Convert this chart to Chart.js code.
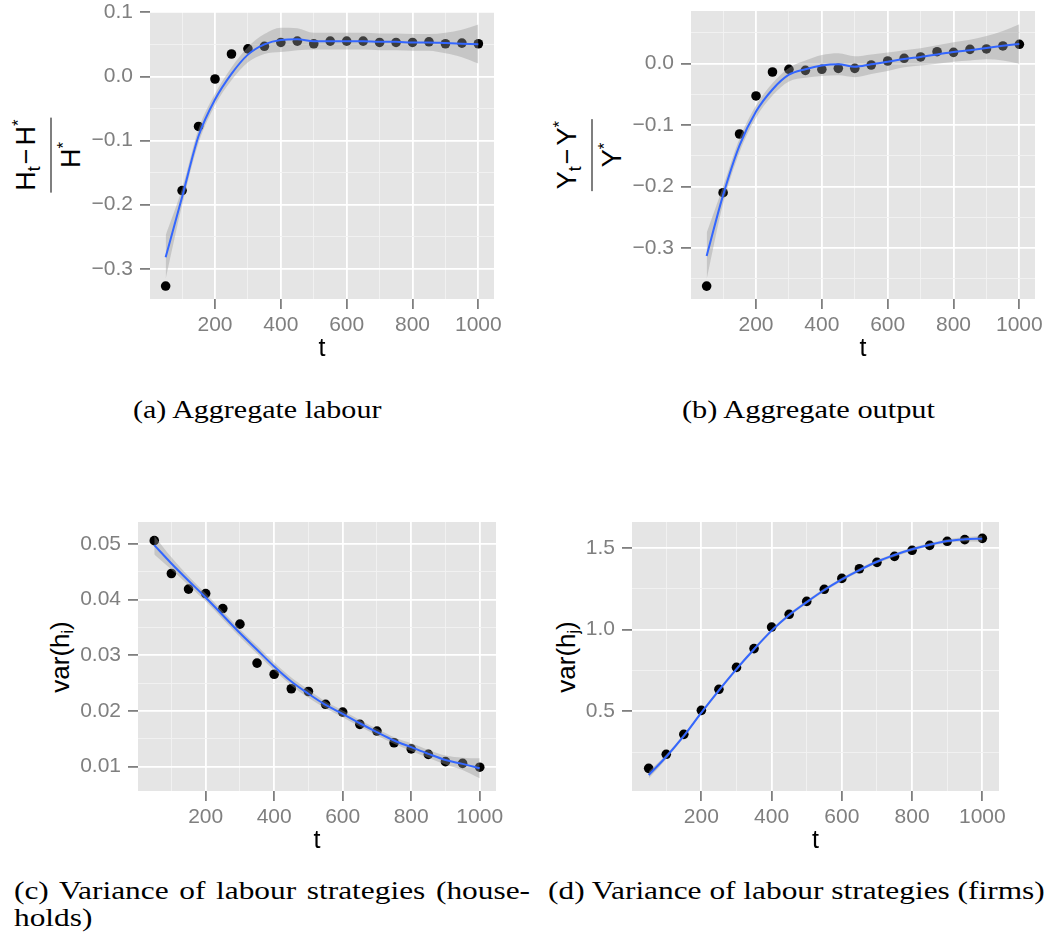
<!DOCTYPE html>
<html>
<head>
<meta charset="utf-8">
<script src="https://cdn.jsdelivr.net/npm/chart.js@4.4.1/dist/chart.umd.min.js"></script>
<style>
  html, body { margin: 0; padding: 0; background: #fff; }
  #page { position: relative; width: 1050px; height: 945px; overflow: hidden; }
  canvas { position: absolute; }
  .ylab { position: absolute; font-family: "Liberation Sans", Arial, sans-serif; color: #000;
          white-space: nowrap; transform: translate(-50%, -50%) rotate(-90deg); }
  .ylab.simple { font-size: 26px; line-height: 26px; }
  .ylab.simple sub { font-size: 0.6em; line-height: 0; vertical-align: -4px; }
  .frac { display: inline-flex; flex-direction: column; align-items: stretch; font-size: 27px; line-height: 30px; }
  .frac .num { padding: 0 2px 10px; text-align: center; }
  .frac .bar { border-top: 1.6px solid #000; }
  .frac .den { padding-top: 4px; text-align: center; }
  .frac sup { font-size: 0.62em; line-height: 0; vertical-align: 11px; }
  .frac sub { font-size: 0.66em; line-height: 0; vertical-align: -5px; }
  .frac .op { margin: 0 3px 0 2px; }
  .cap { position: absolute; font-family: "Liberation Serif", "Times New Roman", serif; font-size: 25px;
         line-height: 25px; color: #000; white-space: nowrap; transform-origin: 0 0; }
</style>
</head>
<body>
<div id="page">
  <div class="ylab" style="left:48px; top:154.5px;">
    <div class="frac"><span class="num">H<sub>t</sub><span class="op">−</span>H<sup>*</sup></span><span class="bar"></span><span class="den">H<sup>*</sup></span></div>
  </div>
  <div class="ylab" style="left:589px; top:155px;">
    <div class="frac"><span class="num">Y<sub>t</sub><span class="op">−</span>Y<sup>*</sup></span><span class="bar"></span><span class="den">Y<sup>*</sup></span></div>
  </div>
  <div class="ylab simple" style="left:60px; top:656.5px;">var(h<sub>i</sub>)</div>
  <div class="ylab simple" style="left:566px; top:656.5px;">var(h<sub>j</sub>)</div>

  <div class="cap" id="capA" style="left:133.3px; top:397.4px;">(a) Aggregate labour</div>
  <div class="cap" id="capB" style="left:682px; top:397.4px;">(b) Aggregate output</div>
  <div class="cap" id="capC1" style="left:13.8px; top:878.4px;">(c) Variance of labour strategies (house-</div>
  <div class="cap" id="capC2" style="left:13.8px; top:905.3px;">holds)</div>
  <div class="cap" id="capD" style="left:548.3px; top:878.4px;">(d) Variance of labour strategies (firms)</div>
</div>
<script>
const tValues = [50, 100, 150, 200, 250, 300, 350, 400, 450, 500, 550, 600, 650, 700, 750, 800, 850, 900, 950, 1000];

// (a) aggregate labour, (H_t - H*)/H*
const labourPoints = [-0.327, -0.178, -0.078, -0.004, 0.035, 0.043, 0.047, 0.053, 0.055, 0.051, 0.055, 0.055, 0.055, 0.053, 0.053, 0.053, 0.054, 0.051, 0.052, 0.051];
const labourFit = [-0.282, -0.188, -0.093, -0.036, 0.004, 0.034, 0.050, 0.057, 0.058, 0.055, 0.055, 0.055, 0.055, 0.054, 0.054, 0.053, 0.053, 0.052, 0.051, 0.050];
const labourHigh = [-0.248, -0.175, -0.082, -0.027, 0.014, 0.046, 0.066, 0.076, 0.075, 0.068, 0.068, 0.068, 0.068, 0.067, 0.067, 0.066, 0.066, 0.068, 0.073, 0.081];
const labourLow = [-0.316, -0.201, -0.104, -0.045, -0.006, 0.022, 0.035, 0.038, 0.041, 0.042, 0.042, 0.042, 0.042, 0.041, 0.041, 0.040, 0.040, 0.036, 0.030, 0.020];

// (b) aggregate output, (Y_t - Y*)/Y*
const outputPoints = [-0.362, -0.210, -0.1145, -0.0526, -0.0136, -0.0092, -0.0109, -0.0092, -0.0076, -0.0076, -0.0022, 0.0043, 0.0087, 0.0109, 0.0195, 0.0184, 0.0233, 0.0239, 0.0288, 0.0315];
const outputFit = [-0.313, -0.214, -0.133, -0.078, -0.042, -0.018, -0.009, -0.003, -0.001, -0.005, -0.001, 0.003, 0.0076, 0.011, 0.015, 0.019, 0.022, 0.0255, 0.029, 0.032];
const outputHigh = [-0.275, -0.200, -0.122, -0.068, -0.032, -0.007, 0.005, 0.014, 0.017, 0.012, 0.015, 0.018, 0.022, 0.025, 0.030, 0.035, 0.039, 0.045, 0.053, 0.064];
const outputLow = [-0.351, -0.228, -0.144, -0.088, -0.052, -0.029, -0.023, -0.020, -0.019, -0.022, -0.017, -0.012, -0.006, -0.003, 0.000, 0.003, 0.005, 0.007, 0.005, 0.000];

// (c) variance of labour strategies, households
const hhPoints = [0.0506, 0.0447, 0.0419, 0.0411, 0.0384, 0.0356, 0.0286, 0.0266, 0.0240, 0.0235, 0.0212, 0.0198, 0.0176, 0.0164, 0.0143, 0.0132, 0.0122, 0.0109, 0.0106, 0.0099];
const hhFit = [0.0498, 0.0465, 0.0434, 0.0404, 0.0372, 0.0340, 0.0310, 0.0280, 0.0253, 0.0231, 0.0211, 0.0195, 0.0178, 0.0162, 0.0147, 0.0135, 0.0123, 0.0112, 0.0105, 0.0097];
const hhHigh = [0.0515, 0.0476, 0.0442, 0.0411, 0.0379, 0.0347, 0.0317, 0.0287, 0.0260, 0.0238, 0.0217, 0.0201, 0.0184, 0.0168, 0.0153, 0.0142, 0.0130, 0.0120, 0.0116, 0.0115];
const hhLow = [0.0481, 0.0454, 0.0426, 0.0397, 0.0365, 0.0333, 0.0303, 0.0273, 0.0246, 0.0224, 0.0205, 0.0189, 0.0172, 0.0156, 0.0141, 0.0128, 0.0116, 0.0104, 0.0094, 0.0079];

// (d) variance of labour strategies, firms
const firmPoints = [0.151, 0.237, 0.359, 0.506, 0.635, 0.769, 0.884, 1.016, 1.094, 1.173, 1.247, 1.314, 1.373, 1.412, 1.449, 1.486, 1.516, 1.541, 1.551, 1.559];
const firmFit = [0.110, 0.222, 0.349, 0.492, 0.629, 0.759, 0.880, 0.994, 1.090, 1.169, 1.243, 1.308, 1.365, 1.416, 1.457, 1.492, 1.520, 1.543, 1.553, 1.557];
const firmHigh = [0.132, 0.236, 0.360, 0.502, 0.639, 0.769, 0.890, 1.004, 1.100, 1.179, 1.253, 1.318, 1.375, 1.426, 1.467, 1.502, 1.530, 1.554, 1.566, 1.575];
const firmLow = [0.088, 0.208, 0.338, 0.482, 0.619, 0.749, 0.870, 0.984, 1.080, 1.159, 1.233, 1.298, 1.355, 1.406, 1.447, 1.482, 1.510, 1.532, 1.540, 1.539];

// ticks
const xMajorTicks = [200, 400, 600, 800, 1000];
const xMinorTicks = [100, 300, 500, 700, 900];
const labourYTicks = [-0.3, -0.2, -0.1, 0.0, 0.1];
const labourYLabels = ['−0.3', '−0.2', '−0.1', '0.0', '0.1'];
const labourYMinor = [-0.25, -0.15, -0.05, 0.05];
const outputYTicks = [-0.3, -0.2, -0.1, 0.0];
const outputYLabels = ['−0.3', '−0.2', '−0.1', '0.0'];
const outputYMinor = [-0.35, -0.25, -0.15, -0.05, 0.05];
const hhYTicks = [0.01, 0.02, 0.03, 0.04, 0.05];
const hhYLabels = ['0.01', '0.02', '0.03', '0.04', '0.05'];
const hhYMinor = [0.015, 0.025, 0.035, 0.045];
const firmYTicks = [0.5, 1.0, 1.5];
const firmYLabels = ['0.5', '1.0', '1.5'];
const firmYMinor = [0.25, 0.75, 1.25];

Chart.defaults.font.family = "'Liberation Sans', Arial, sans-serif";

const page = document.getElementById('page');

const panelBg = {
  id: 'panelBg',
  beforeDraw(chart) {
    const a = chart.chartArea, ctx = chart.ctx;
    ctx.save();
    ctx.fillStyle = '#E5E5E5';
    ctx.fillRect(a.left, a.top, a.right - a.left, a.bottom - a.top);
    ctx.restore();
  }
};

function pairs(ys) {
  return tValues.map((t, i) => ({ x: t, y: ys[i] }));
}

function tickList(major, minor) {
  return major.map(v => ({ value: v })).concat(minor.map(v => ({ value: v, minor: true })));
}

const isMinor = c => c.tick && c.tick.minor;
const gridColor = c => isMinor(c) ? '#F2F2F2' : '#FFFFFF';
const gridWidth = c => isMinor(c) ? 0.9 : 1.8;
const tickColor = c => isMinor(c) ? 'rgba(0,0,0,0)' : '#7F7F7F';

function makePanel(p) {
  const AXW = 80, AXH = 70, PT = 12, PR = 30;
  const left = p.area.l - AXW, top = p.area.t - PT;
  const w = p.area.r + PR - left, h = p.area.b + AXH - top;
  const cv = document.createElement('canvas');
  cv.width = w; cv.height = h;
  cv.style.left = left + 'px'; cv.style.top = top + 'px';
  cv.style.width = w + 'px'; cv.style.height = h + 'px';
  page.appendChild(cv);

  new Chart(cv, {
    type: 'scatter',
    data: {
      datasets: [
        { data: pairs(p.points), pointRadius: 4.8, backgroundColor: '#000', borderColor: '#000', pointBorderWidth: 0, order: 4 },
        { data: pairs(p.low), showLine: true, pointRadius: 0, borderWidth: 0, borderColor: 'rgba(0,0,0,0)',
          fill: false, cubicInterpolationMode: 'monotone', order: 3 },
        { data: pairs(p.high), showLine: true, pointRadius: 0, borderWidth: 0, borderColor: 'rgba(0,0,0,0)',
          fill: '-1', backgroundColor: 'rgba(153,153,153,0.4)', cubicInterpolationMode: 'monotone', order: 2 },
        { data: pairs(p.fit), showLine: true, pointRadius: 0, borderWidth: 2, borderColor: '#3366FF',
          fill: false, cubicInterpolationMode: 'monotone', order: 1 }
      ]
    },
    options: {
      responsive: false,
      animation: false,
      devicePixelRatio: 1,
      events: [],
      layout: { padding: { left: 0, top: PT, right: PR, bottom: 0 } },
      plugins: {
        legend: { display: false },
        tooltip: { enabled: false },
        filler: { drawTime: 'beforeDatasetDraw' }
      },
      scales: {
        x: {
          type: 'linear', bounds: 'data', min: 2.5, max: 1047.5,
          afterBuildTicks: s => { s.ticks = tickList(xMajorTicks, xMinorTicks); },
          afterFit: s => { s.height = AXH; s.paddingLeft = 0; s.paddingRight = 0; },
          grid: { color: gridColor, lineWidth: gridWidth, tickColor: tickColor, tickLength: 10, tickWidth: 1.8 },
          border: { display: false },
          ticks: {
            autoSkip: false, maxRotation: 0, padding: 4, color: '#7F7F7F', font: { size: 21 },
            callback: (v, i, ticks) => ticks[i].minor ? '' : String(v)
          },
          title: { display: true, text: 't', color: '#000', font: { size: 25 }, padding: { top: 0, bottom: 5 } }
        },
        y: {
          type: 'linear', bounds: 'data', min: p.yMin, max: p.yMax,
          afterBuildTicks: s => { s.ticks = tickList(p.yTicks, p.yMinor); },
          afterFit: s => { s.width = AXW; s.paddingTop = 0; s.paddingBottom = 0; },
          grid: { color: gridColor, lineWidth: gridWidth, tickColor: tickColor, tickLength: 10, tickWidth: 1.8 },
          border: { display: false },
          ticks: {
            autoSkip: false, padding: 7, color: '#7F7F7F', font: { size: 21 },
            callback: (v, i, ticks) => {
              if (ticks[i].minor) return '';
              const k = p.yTicks.indexOf(v);
              return k >= 0 ? p.yLabels[k] : '';
            }
          }
        }
      }
    },
    plugins: [panelBg]
  });
}

makePanel({
  area: { l: 150, r: 494, t: 12, b: 299 },
  yMin: -0.3472, yMax: 0.1005,
  yTicks: labourYTicks, yLabels: labourYLabels, yMinor: labourYMinor,
  points: labourPoints, fit: labourFit, low: labourLow, high: labourHigh
});
makePanel({
  area: { l: 691, r: 1035, t: 11, b: 299 },
  yMin: -0.383, yMax: 0.0857,
  yTicks: outputYTicks, yLabels: outputYLabels, yMinor: outputYMinor,
  points: outputPoints, fit: outputFit, low: outputLow, high: outputHigh
});
makePanel({
  area: { l: 138, r: 496, t: 522, b: 791 },
  yMin: 0.00563, yMax: 0.05395,
  yTicks: hhYTicks, yLabels: hhYLabels, yMinor: hhYMinor,
  points: hhPoints, fit: hhFit, low: hhLow, high: hhHigh
});
makePanel({
  area: { l: 632, r: 999, t: 522, b: 791 },
  yMin: 0.0122, yMax: 1.6592,
  yTicks: firmYTicks, yLabels: firmYLabels, yMinor: firmYMinor,
  points: firmPoints, fit: firmFit, low: firmLow, high: firmHigh
});

// captions: stretch the serif text to the widths of the original
function stretch(id, targetW) {
  const el = document.getElementById(id);
  const w = el.getBoundingClientRect().width;
  const k = targetW / w;
  el.style.transform = 'scaleX(' + k + ')';
  return k;
}
const kD = stretch('capD', 496.7);
stretch('capA', 248.4);
stretch('capB', 253);
const c1 = document.getElementById('capC1');
const c1w = c1.getBoundingClientRect().width;
c1.style.wordSpacing = ((516 / kD - c1w) / 5) + 'px';
c1.style.transform = 'scaleX(' + kD + ')';
document.getElementById('capC2').style.transform = 'scaleX(' + kD + ')';
</script>
</body>
</html>
